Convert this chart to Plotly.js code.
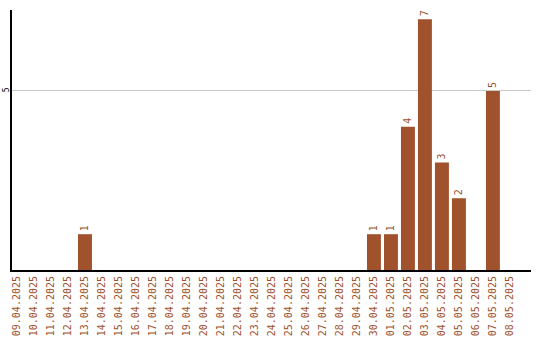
<!DOCTYPE html>
<html>
<head>
<meta charset="utf-8">
<script src="https://cdn.plot.ly/plotly-3.0.1.min.js"></script>
<style>html,body{margin:0;padding:0;background:#fff;}#chart{width:540px;height:340px;}</style>
</head>
<body>
<div id="chart"></div>
<script>
const dates = ["09.04.2025","10.04.2025","11.04.2025","12.04.2025","13.04.2025","14.04.2025","15.04.2025","16.04.2025","17.04.2025","18.04.2025","19.04.2025","20.04.2025","21.04.2025","22.04.2025","23.04.2025","24.04.2025","25.04.2025","26.04.2025","27.04.2025","28.04.2025","29.04.2025","30.04.2025","01.05.2025","02.05.2025","03.05.2025","04.05.2025","05.05.2025","06.05.2025","07.05.2025","08.05.2025"];
const counts = [0,0,0,0,1,0,0,0,0,0,0,0,0,0,0,0,0,0,0,0,0,1,1,4,7,3,2,0,5,0];
const barColor = "#a0522d";

const trace = {
  type: "bar",
  x: dates,
  y: counts,
  text: counts.map(v => v > 0 ? String(v) : ""),
  textposition: "outside",
  textangle: -90,
  cliponaxis: false,
  textfont: {family: "DejaVu Sans Mono", size: 10, color: barColor},
  marker: {color: barColor},
  width: 0.82,
  hoverinfo: "none"
};

const layout = {
  width: 540, height: 340,
  margin: {l: 12, r: 9, t: 10, b: 70},
  paper_bgcolor: "#fff", plot_bgcolor: "#fff",
  showlegend: false,
  font: {family: "DejaVu Sans Mono"},
  xaxis: {
    type: "category",
    range: [-0.294, 30.24],
    tickangle: -90,
    tickfont: {family: "DejaVu Sans Mono", size: 10, color: barColor},
    showline: true, linecolor: "#000", linewidth: 2,
    showgrid: false, ticks: "", ticklen: 0,
    zeroline: false
  },
  yaxis: {
    range: [0, 7.26],
    tickvals: [5],
    ticktext: ["5"],
    tickangle: -90,
    ticklabelstandoff: -2,
    tickfont: {family: "DejaVu Sans Mono", size: 8, color: "#000"},
    showline: true, linecolor: "#000", linewidth: 2,
    showgrid: true, gridcolor: "#c8c8c8", gridwidth: 1,
    zeroline: false, ticks: ""
  }
};

Plotly.newPlot("chart", [trace], layout, {displayModeBar: false, staticPlot: true});
</script>
</body>
</html>
